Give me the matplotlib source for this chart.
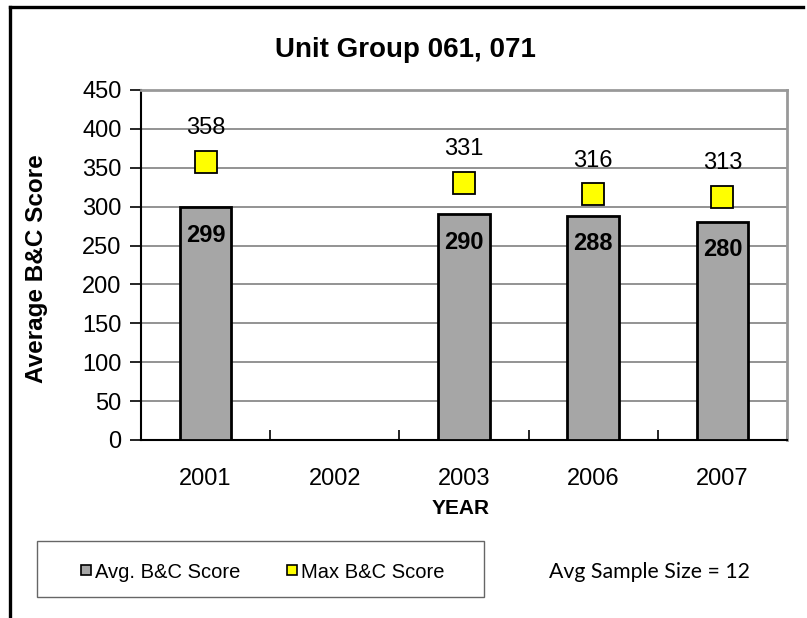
import numpy as np
import matplotlib
matplotlib.use("Agg")
import matplotlib.pyplot as plt
from matplotlib.lines import Line2D
from matplotlib.patches import Rectangle

plt.rcParams["font.family"] = ["Liberation Sans", "DejaVu Sans"]

# Donnees
years = ["2001", "2002", "2003", "2006", "2007"]
avg_score = [299, np.nan, 290, 288, 280]
max_score = [358, np.nan, 331, 316, 313]
sample_size = 12

W, H = 807, 618
fig = plt.figure(figsize=(W / 100, H / 100), dpi=100)
ax = fig.add_axes([141 / W, 1 - 440 / H, 646 / W, 350 / H])

x = np.arange(len(years))
ax.bar(x, avg_score, width=0.4, color="#A6A6A6", edgecolor="black", linewidth=2, zorder=3)
ax.plot(x, max_score, linestyle="none", marker="s", markersize=15.5,
        markerfacecolor="#FFFF00", markeredgecolor="black", markeredgewidth=1.3, zorder=4)

for xi, a, m in zip(x, avg_score, max_score):
    if np.isnan(a):
        continue
    ax.annotate(f"{a:.0f}", (xi, a), xytext=(0, -20), textcoords="offset points",
                ha="center", va="center", fontsize=17, fontweight="bold", zorder=5)
    ax.annotate(f"{m:.0f}", (xi, m), xytext=(0, 24), textcoords="offset points",
                ha="center", va="center", fontsize=17, zorder=5)

ax.set_xlim(-0.5, len(years) - 0.5)
ax.set_ylim(0, 450)
ax.set_yticks(np.arange(0, 451, 50))
ax.set_xticks(np.arange(-0.5, len(years), 1.0), minor=False)
ax.set_xticklabels([])
ax.set_xticks(x, minor=True)
ax.set_xticklabels(years, minor=True)
ax.tick_params(axis="x", which="major", direction="in", length=7, width=1.2)
ax.tick_params(axis="x", which="minor", length=0, pad=20, labelsize=17)
ax.tick_params(axis="y", direction="out", length=8, width=1.2, labelsize=17, pad=6)

ax.yaxis.grid(True, color="#808080", linewidth=1.2, zorder=0)
ax.set_axisbelow(True)
for side in ["top", "right"]:
    ax.spines[side].set_color("#999999")
    ax.spines[side].set_linewidth(2)
ax.spines["left"].set_linewidth(1.5)
ax.spines["bottom"].set_linewidth(1.5)

# Titre centre sur la figure, pas sur les axes
fig.text(405 / W, 1 - 50 / H, "Unit Group 061, 071", ha="center", va="center",
         fontsize=20, fontweight="bold")
fig.text(37 / W, 1 - 269 / H, "Average B&C Score", rotation=90, ha="center", va="center",
         fontsize=17.5, fontweight="bold")
fig.text(461 / W, 1 - 508 / H, "YEAR", ha="center", va="center", fontsize=15, fontweight="bold")

# Legende dans un cadre
fig.patches.append(Rectangle((37 / W, 1 - 597 / H), 447 / W, 56 / H, transform=fig.transFigure,
                             facecolor="white", edgecolor="#666666", linewidth=1))
handles = [
    Line2D([], [], linestyle="none", marker="s", markersize=7.2, markerfacecolor="#A6A6A6",
           markeredgecolor="black", markeredgewidth=1.2, label="Avg. B&C Score"),
    Line2D([], [], linestyle="none", marker="s", markersize=7.2, markerfacecolor="#FFFF00",
           markeredgecolor="black", markeredgewidth=1.2, label="Max B&C Score"),
]
fig.legend(handles=handles, loc="center", bbox_to_anchor=(263 / W, 1 - 572 / H), ncol=2,
           frameon=False, fontsize=14.5, handlelength=0.5, handletextpad=0.2, columnspacing=2.3)

fig.text(649 / W, 1 - 572 / H, f"Avg Sample Size = {sample_size}", ha="center", va="center",
         fontsize=15.3, family=["Lato", "DejaVu Sans"])

# Bordure exterieure
fig.add_artist(Line2D([10 / W, 10 / W], [0, 1 - 7 / H], transform=fig.transFigure, color="black", linewidth=2.4))
fig.add_artist(Line2D([10 / W, 803 / W], [1 - 7 / H, 1 - 7 / H], transform=fig.transFigure, color="black", linewidth=2.4))

fig.savefig("out.png", dpi=100)
